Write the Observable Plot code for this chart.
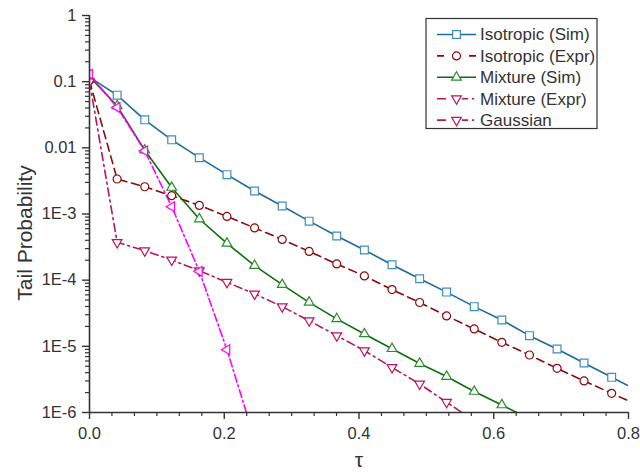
<!DOCTYPE html>
<html><head><meta charset="utf-8">
<script src="https://cdn.jsdelivr.net/npm/d3@7"></script>
<script src="https://cdn.jsdelivr.net/npm/@observablehq/plot@0.6"></script>
<style>body{margin:0;background:#fff}#chart{width:640px;height:474px;overflow:hidden}</style>
</head><body><div id="chart"></div>
<script>
// ---- data ----
const tau = [0, 0.041, 0.082, 0.122, 0.163, 0.204, 0.245, 0.286, 0.326, 0.367, 0.408, 0.449, 0.490, 0.530, 0.571, 0.612, 0.653, 0.694, 0.734, 0.775, 0.816];
const isotropicSim = [0.117, 0.0625, 0.0265, 0.0132, 0.0071, 0.00393, 0.00223, 0.00132, 7.8e-4, 4.65e-4, 2.86e-4, 1.71e-4, 1.05e-4, 6.6e-5, 3.98e-5, 2.5e-5, 1.45e-5, 9.1e-6, 5.6e-6, 3.4e-6, 2.1e-6];
const isotropicExpr = [0.103, 3.38e-3, 2.58e-3, 1.89e-3, 1.35e-3, 9.2e-4, 6.15e-4, 4.13e-4, 2.72e-4, 1.76e-4, 1.16e-4, 7.2e-5, 4.6e-5, 2.88e-5, 1.83e-5, 1.15e-5, 7.4e-6, 4.65e-6, 3.0e-6, 1.95e-6, 1.27e-6];
const mixtureSim = [0.119, 0.043, 0.0092, 2.52e-3, 8.4e-4, 3.6e-4, 1.66e-4, 8.55e-5, 4.62e-5, 2.6e-5, 1.54e-5, 9.2e-6, 5.5e-6, 3.5e-6, 2.08e-6, 1.3e-6, 8e-7];
const mixtureExpr = [0.1, 3.73e-4, 2.79e-4, 2.02e-4, 1.39e-4, 9.3e-5, 6.2e-5, 3.98e-5, 2.44e-5, 1.45e-5, 8.6e-6, 4.8e-6, 2.7e-6, 1.43e-6, 7.5e-7];
const gaussian = [0.13, 0.0407, 9.0e-3, 1.29e-3, 1.36e-4, 8.9e-6, 4e-7];
const seriesNames = ["Isotropic (Sim)", "Isotropic (Expr)", "Mixture (Sim)", "Mixture (Expr)", "Gaussian"];
const yTicks = [1e-6, 1e-5, 1e-4, 1e-3, 1e-2, 1e-1, 1];
const yTickLabels = ["1E-6", "1E-5", "1E-4", "1E-3", "0.01", "0.1", "1"];
const xTicks = [0, 0.2, 0.4, 0.6, 0.8];
const xTickLabels = ["0.0", "0.2", "0.4", "0.6", "0.8"];
const xLabel = "τ";
const yLabel = "Tail Probability";

// ---- symbols ----
function tri(rot) {
  return {draw(ctx, size) {
    const R = Math.sqrt(size / Math.PI) * 1.3;
    const pts = [[0, -R], [R * 0.866, R * 0.5], [-R * 0.866, R * 0.5]].map(([x, y]) => {
      const c = Math.cos(rot), s = Math.sin(rot);
      return [x * c - y * s, x * s + y * c];
    });
    ctx.moveTo(pts[0][0], pts[0][1]);
    ctx.lineTo(pts[1][0], pts[1][1]);
    ctx.lineTo(pts[2][0], pts[2][1]);
    ctx.closePath();
  }};
}
const triUp = tri(0), triDown = tri(Math.PI), triLeft = tri(-Math.PI / 2);

const styles = [
  {values: isotropicSim, stroke: "#1c6b9b", mstroke: "#3f8cbf", dash: null, symbol: d3.symbolSquare, r: 4.4, legendSymbol: d3.symbolSquare, legendDash: null, first: 1},
  {values: isotropicExpr, stroke: "#8b0a0a", mstroke: "#8b0a0a", dash: "8,5", symbol: "circle", r: 4, legendSymbol: d3.symbolCircle, legendDash: "7,25", first: 0},
  {values: mixtureSim, stroke: "#0b700b", mstroke: "#2e8b2e", dash: null, symbol: triUp, r: 4.3, legendSymbol: triUp, legendDash: null, first: 1},
  {values: mixtureExpr, stroke: "#b8155f", mstroke: "#b8155f", dash: "8,4,2,4", symbol: triDown, r: 4.3, legendSymbol: triDown, legendDash: "9,16,6,4,2,10", first: 0},
  {values: gaussian, stroke: "#ff00ff", mstroke: "#ff00ff", dash: "8,3,2,3", symbol: triLeft, r: 4.3, legendSymbol: triDown, legendColor: "#b8155f", legendDash: "9,16,6,4,2,10", first: 0}
];

const rows = styles.map((s, k) => s.values.map((v, i) => ({name: seriesNames[k], tau: tau[i], p: v, i})));

const yMinor = [];
for (const d of yTicks.slice(0, -1)) for (let m = 2; m <= 9; m++) yMinor.push(d * m);
const xMinor = d3.range(1, 24).map(k => k / 30).filter(v => Math.abs(v * 5 - Math.round(v * 5)) > 1e-6);

const font = "'Liberation Sans', Arial, Helvetica, sans-serif";
const marks = [];
styles.forEach((s, k) => {
  marks.push(Plot.line(rows[k], {x: "tau", y: "p", stroke: s.stroke, strokeWidth: 1.6, strokeDasharray: s.dash, clip: true}));
});
styles.forEach((s, k) => {
  marks.push(Plot.dot(rows[k].filter(d => d.i >= s.first), {x: "tau", y: "p", symbol: () => s.symbol, r: s.r, stroke: s.mstroke, fill: "white", strokeWidth: 1.2, clip: true}));
});

const plot = Plot.plot({
  width: 640, height: 474,
  marginTop: 15, marginBottom: 62, marginLeft: 89, marginRight: 12,
  style: {fontFamily: font, background: "white", color: "#333"},
  x: {domain: [0, 0.8], label: null},
  y: {type: "log", domain: [1e-6, 1], label: null},
  symbol: {type: "identity"},
  marks: [
    ...marks,
    Plot.ruleX([0], {stroke: "#333", strokeWidth: 1.6}),
    Plot.ruleY([1e-6], {stroke: "#333", strokeWidth: 1.6}),
    Plot.axisY(yMinor, {tickSize: 4, tickFormat: () => "", stroke: "#333", strokeWidth: 1.2, label: null}),
    Plot.axisY(yTicks, {tickSize: 7, tickPadding: 6, tickFormat: d => yTickLabels[yTicks.indexOf(d)], fontSize: 16.5, color: "#333", strokeWidth: 1.4, label: null}),
    Plot.axisX(xMinor, {tickSize: 4, tickFormat: () => "", stroke: "#333", strokeWidth: 1.2, label: null}),
    Plot.axisX(xTicks, {tickSize: 7, tickPadding: 8, tickFormat: d => xTickLabels[xTicks.indexOf(d)], fontSize: 16.5, color: "#333", strokeWidth: 1.4, label: null}),
    Plot.text([yLabel], {frameAnchor: "left", textAnchor: "middle", lineAnchor: "middle", rotate: -90, dx: -64, dy: 19, fontSize: 21, fill: "#333", text: d => d}),
    Plot.text([xLabel], {frameAnchor: "bottom", textAnchor: "middle", lineAnchor: "middle", dy: 48, fontSize: 21, fill: "#333", text: d => d})
  ]
});
document.getElementById("chart").appendChild(plot);

// ---- legend (inside plot area, top right) ----
const svg = d3.select(plot);
const lg = svg.append("g").attr("font-family", font).attr("font-size", 17).attr("text-anchor", "start");
lg.append("rect").attr("x", 426).attr("y", 18.5).attr("width", 171).attr("height", 110)
  .attr("fill", "white").attr("stroke", "#333").attr("stroke-width", 1.2);
styles.forEach((s, k) => {
  const y = 34.5 + k * 21.4;
  const col = s.legendColor || s.stroke;
  const mcol = s.legendColor || s.mstroke;
  lg.append("line").attr("x1", 437).attr("x2", 476).attr("y1", y).attr("y2", y)
    .attr("stroke", col).attr("stroke-width", 1.6).attr("stroke-dasharray", s.legendDash);
  lg.append("path").attr("transform", `translate(456.5,${y})`)
    .attr("d", d3.symbol(s.legendSymbol, s.r * s.r * Math.PI)())
    .attr("fill", "white").attr("stroke", mcol).attr("stroke-width", 1.2);
  lg.append("text").attr("x", 480).attr("y", y).attr("dy", "0.35em").attr("fill", "#333")
    .style("font-size", "17px").attr("text-anchor", "start").text(seriesNames[k]);
});
</script>
</body></html>
